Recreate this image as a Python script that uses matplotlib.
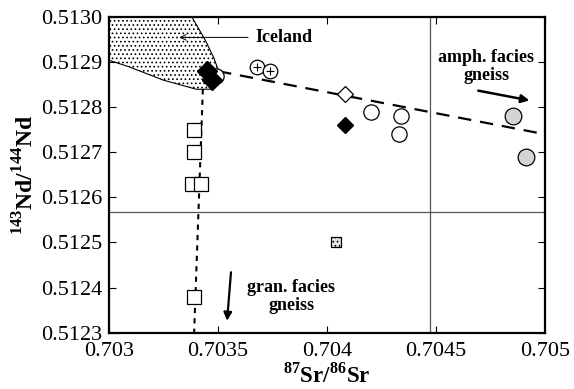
import matplotlib.pyplot as plt

plt.rcParams['font.family'] = ['Liberation Serif', 'DejaVu Serif']
plt.rcParams['mathtext.fontset'] = 'custom'
plt.rcParams['mathtext.rm'] = 'Liberation Serif:bold'
plt.rcParams['mathtext.bf'] = 'Liberation Serif:bold'
plt.rcParams['hatch.linewidth'] = 0.7

# Iceland field outline (clipped by the axes)
iceland_sr = [0.7029, 0.70333, 0.70338, 0.70344, 0.70348, 0.70351, 0.70350,
              0.70347, 0.70340, 0.70325, 0.70309, 0.7029]
iceland_nd = [0.5131, 0.5131, 0.51300, 0.51295, 0.51291, 0.51287, 0.51285,
              0.51284, 0.51284, 0.51286, 0.51289, 0.51292]

# samples
sq_sr = [0.70339, 0.70339, 0.70338, 0.70342, 0.70339]
sq_nd = [0.51275, 0.51270, 0.51263, 0.51263, 0.51238]
dotsq_sr = [0.70404]
dotsq_nd = [0.51250]
blk_dia_sr = [0.70345, 0.70347, 0.70408]
blk_dia_nd = [0.51288, 0.51286, 0.51276]
open_dia_sr = [0.70408]
open_dia_nd = [0.51283]
cross_sr = [0.70368, 0.70374]
cross_nd = [0.51289, 0.51288]
open_circ_sr = [0.70420, 0.70434, 0.70433]
open_circ_nd = [0.51279, 0.51278, 0.51274]
grey_circ_sr = [0.70485, 0.70491]
grey_circ_nd = [0.51278, 0.51269]

# trend lines
amph_line_sr = [0.70350, 0.7050]
amph_line_nd = [0.51288, 0.51274]
gran_line_sr = [0.70343, 0.70339]
gran_line_nd = [0.51284, 0.5123]

fig = plt.figure(figsize=(5.74, 3.89), dpi=100)
ax = fig.add_axes([0.19, 0.145, 0.76, 0.811])

ax.fill(iceland_sr, iceland_nd, facecolor='white', edgecolor='black',
        hatch='....', linewidth=0.8, zorder=1)

ax.axhline(0.512568, color='#555555', linewidth=0.9, zorder=1)
ax.axvline(0.70447, color='#555555', linewidth=0.9, zorder=1)

ax.plot(amph_line_sr, amph_line_nd, color='black', linewidth=1.6,
        dashes=(6, 4), zorder=2)
ax.plot(gran_line_sr, gran_line_nd, color='black', linewidth=1.5,
        dashes=(2.5, 2.5), zorder=2)

ax.plot(sq_sr, sq_nd, 's', ms=10, mfc='white', mec='black', mew=0.9, zorder=3)
ax.plot(dotsq_sr, dotsq_nd, 's', ms=7.5, mfc='#e8e8e8', mec='black', mew=0.9,
        zorder=3)
ax.scatter(dotsq_sr, dotsq_nd, s=56, marker='s', facecolor='none',
           edgecolor='black', hatch='....', linewidth=0, zorder=4)
ax.plot([0.70349], [0.51287], 'o', ms=11, mfc='white', mec='black', mew=0.9,
        zorder=3)
ax.plot(blk_dia_sr[:2], blk_dia_nd[:2], 'D', ms=10, mfc='black', mec='black',
        zorder=4)
ax.plot(blk_dia_sr[2:], blk_dia_nd[2:], 'D', ms=8, mfc='black', mec='black',
        zorder=4)
ax.plot(open_dia_sr, open_dia_nd, 'D', ms=8.5, mfc='white', mec='black',
        mew=0.9, zorder=4)
ax.plot(cross_sr, cross_nd, 'o', ms=10.5, mfc='white', mec='black', mew=0.9,
        zorder=4)
ax.plot(cross_sr, cross_nd, '+', ms=6, mec='black', mew=0.8, zorder=5)
ax.plot(open_circ_sr, open_circ_nd, 'o', ms=11, mfc='white', mec='black',
        mew=0.9, zorder=4)
ax.plot(grey_circ_sr, grey_circ_nd, 'o', ms=12, mfc='#d4d4d4', mec='black',
        mew=0.9, zorder=4)

# annotations
ax.annotate('', xy=(0.70331, 0.512955), xytext=(0.70365, 0.512955),
            arrowprops=dict(arrowstyle='->', color='black', lw=0.7))
ax.text(0.70367, 0.512955, 'Iceland', fontsize=13, fontweight='bold',
        ha='left', va='center')
ax.text(0.70473, 0.51289, 'amph. facies\ngneiss', fontsize=13,
        fontweight='bold', ha='center', va='center', linespacing=1.05)
ax.annotate('', xy=(0.70494, 0.512814), xytext=(0.70468, 0.512838),
            arrowprops=dict(arrowstyle='-|>', color='black', lw=1.8,
                            mutation_scale=12))
ax.text(0.703835, 0.51238, 'gran. facies\ngneiss', fontsize=13,
        fontweight='bold', ha='center', va='center', linespacing=1.05)
ax.annotate('', xy=(0.70354, 0.51232), xytext=(0.70356, 0.51244),
            arrowprops=dict(arrowstyle='-|>', color='black', lw=1.6,
                            mutation_scale=12))

ax.set_xlim(0.703, 0.705)
ax.set_ylim(0.5123, 0.5130)
ax.set_xticks([0.703, 0.7035, 0.704, 0.7045, 0.705])
ax.set_xticklabels(['0.703', '0.7035', '0.704', '0.7045', '0.705'])
ax.set_yticks([0.5123, 0.5124, 0.5125, 0.5126, 0.5127, 0.5128, 0.5129, 0.5130])
ax.set_yticklabels(['0.5123', '0.5124', '0.5125', '0.5126', '0.5127',
                    '0.5128', '0.5129', '0.5130'])
ax.tick_params(direction='in', top=True, right=True, length=5, width=0.8,
               labelsize=16)
ax.tick_params(axis='x', pad=7)
ax.tick_params(axis='y', pad=5)
for s in ax.spines.values():
    s.set_linewidth(1.6)

ax.set_xlabel('$^{87}$Sr/$^{86}$Sr', fontsize=16.5, fontweight='bold',
              labelpad=1)
ax.set_ylabel('$^{143}$Nd/$^{144}$Nd', fontsize=17, fontweight='bold',
              labelpad=2)

plt.savefig('out.png', dpi=100)
